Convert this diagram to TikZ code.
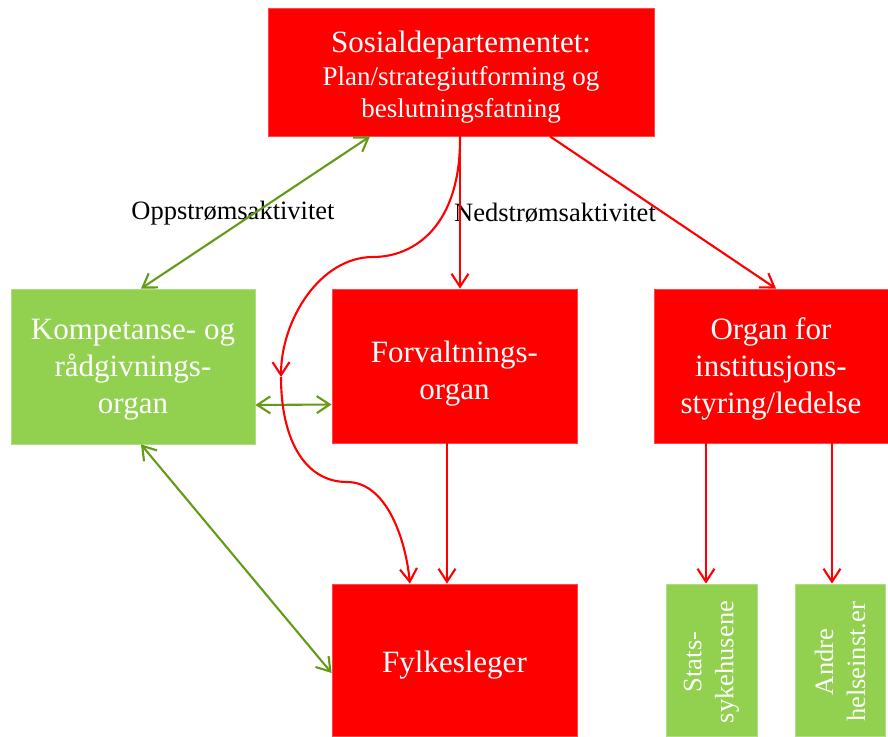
\documentclass[tikz,border=0pt]{standalone}
\usepackage{fontspec}
\setmainfont{Liberation Serif}
\usetikzlibrary{arrows.meta,calc}
\definecolor{boxred}{HTML}{FF0000}
\definecolor{boxgreen}{HTML}{92D050}
\definecolor{linkgreen}{HTML}{649B16}
\begin{document}
\begin{tikzpicture}[x=1pt,y=-1pt,
  redbox/.style={rectangle, fill=boxred, draw=boxred!72!white, line width=0.8pt,
    inner sep=0pt},
  greenbox/.style={rectangle, fill=boxgreen, draw=boxgreen!72!white, line width=0.8pt,
    inner sep=0pt},
  boxtext/.style={text=white, align=center, inner sep=0pt},
  bigtext/.style={boxtext, font=\fontsize{31}{37}\selectfont},
  smalltext/.style={boxtext, font=\fontsize{26.5}{32}\selectfont},
  barb/.tip={Straight Barb[length=13pt,width=17pt]},
  redlink/.style={draw=boxred, line width=2.1pt, -barb},
  greenlink/.style={draw=linkgreen, line width=2.1pt, barb-barb},
  lbl/.style={font=\fontsize{26.5}{30}\selectfont, text=black, inner sep=0pt}
]
\useasboundingbox (0,0) rectangle (888,736);

% boxes
\node[redbox, minimum width=386, minimum height=128] (top) at (461,72) {};
\node[greenbox, minimum width=244, minimum height=155] (komp) at (133,366.5) {};
\node[redbox, minimum width=245, minimum height=154] (forv) at (454.5,366) {};
\node[redbox, minimum width=234, minimum height=154] (organ) at (771,366) {};
\node[redbox, minimum width=245, minimum height=152] (fylk) at (454.5,660) {};
\node[greenbox, minimum width=91, minimum height=152] (stats) at (711.5,660) {};
\node[greenbox, minimum width=90, minimum height=152] (andre) at (840,660) {};

% box texts
\node[boxtext, anchor=base] (topA) at (461,52)
  {\fontsize{31}{33}\selectfont Sosialdepartementet:};
\node[boxtext, anchor=base] (topB) at (461,85)
  {\fontsize{27}{32}\selectfont Plan/strategiutforming og};
\node[boxtext, anchor=base] (topC) at (461,117)
  {\fontsize{27}{32}\selectfont beslutningsfatning};
\node[bigtext] (kompT) at ([yshift=-3pt]komp.center)
  {Kompetanse- og\\rådgivnings-\\organ};
\node[bigtext] (forvT) at ([yshift=-8pt]forv.center)
  {Forvaltnings-\\organ};
\node[bigtext] (organT) at ([yshift=-3pt]organ.center)
  {Organ for\\institusjons-\\styring/ledelse};
\node[bigtext] (fylkT) at ([yshift=-5pt]fylk.center) {Fylkesleger};
\node[smalltext, rotate=90] (statsT) at ([yshift=-2pt]stats.center) {Stats-\\sykehusene};
\node[smalltext, rotate=90] (andreT) at ([yshift=-2pt]andre.center) {Andre\\helseinst.er};

% labels
\node[lbl] (upl) at (233,213) {Oppstrømsaktivitet};
\node[lbl] (downl) at (555,213) {Nedstrømsaktivitet};

% green two-way links
\draw[greenlink] ([xshift=8pt]komp.north) -- ([xshift=-91pt]top.south);
\draw[greenlink] ([yshift=-38.5pt]komp.east) -- ([yshift=-38.5pt]forv.west);
\draw[greenlink] ([xshift=8pt]komp.south) -- ([yshift=-13pt]fylk.west);

% red links
\draw[redlink] ([xshift=-1pt]top.south) -- ([xshift=-1pt]top.south |- forv.north);
\draw[redlink] ([xshift=89pt]top.south) -- ([xshift=5pt]organ.north);
\draw[redlink] ([xshift=-7.5pt]forv.south) -- ([xshift=-7.5pt]forv.south |- fylk.north);
\draw[redlink] ([xshift=-65pt]organ.south) -- ([xshift=-65pt]organ.south |- stats.north);
\draw[redlink] ([xshift=61pt]organ.south) -- ([xshift=61pt]organ.south |- andre.north);

% winding link from the department past the advisory organ down to Fylkesleger
\coordinate (bendA) at (373,257);
\coordinate (midtip) at (281,377);
\coordinate (bendB) at (347,482);
\draw[redlink] ([xshift=-1pt]top.south) .. controls (461,225) and (415,257) .. (bendA)
  .. controls (320,257) and (281,320) .. (midtip);
\draw[redlink] (midtip) .. controls (281,440) and (305,482) .. (bendB)
  .. controls (385,482) and (405,535) .. ([xshift=-44.5pt]fylk.north);
\end{tikzpicture}
\end{document}
